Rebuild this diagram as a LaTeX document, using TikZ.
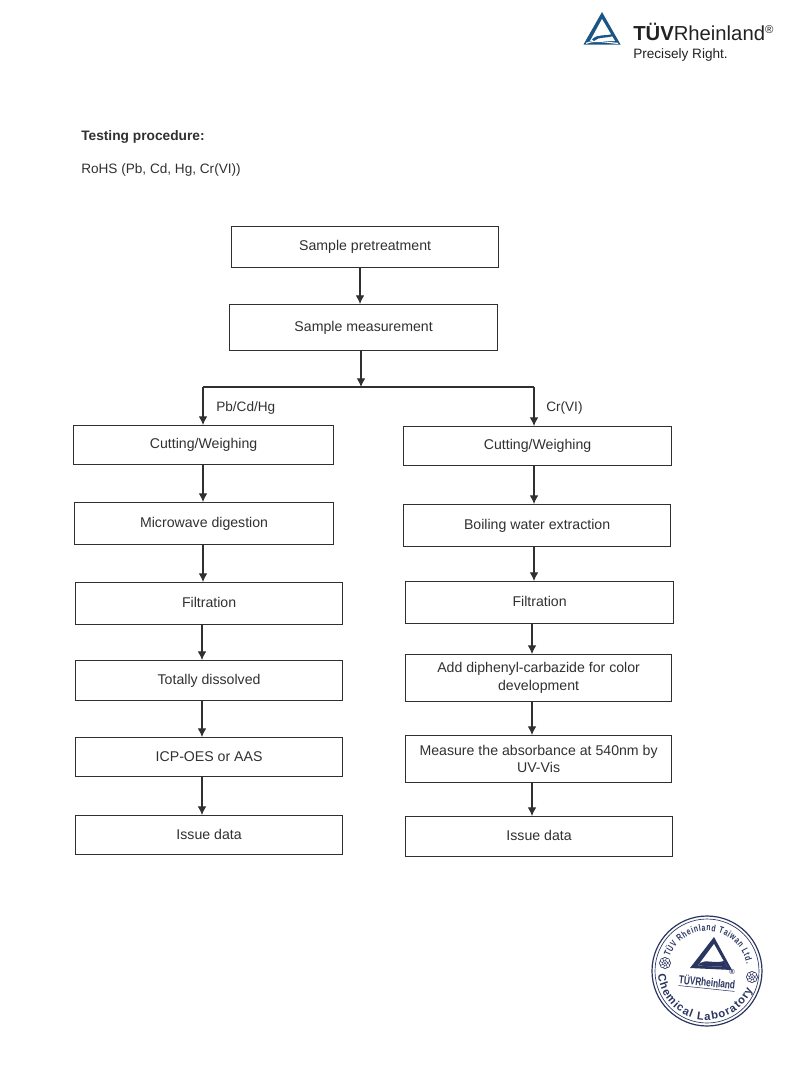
\documentclass[tikz,border=0pt]{standalone}
\usepackage{fontspec}
\setmainfont{Liberation Sans}
\newfontfamily\sealfont[FakeStretch=0.72]{Liberation Sans Bold}
\usetikzlibrary{arrows.meta,decorations.text}
\definecolor{ink}{HTML}{303030}
\definecolor{logoblue}{HTML}{1B5585}
\definecolor{logotext}{HTML}{222222}
\definecolor{seal}{HTML}{2A3560}
\tikzset{
  px/.style={x=0.75pt,y=-0.75pt},
  flowbox/.style={draw=ink,line width=0.9pt,anchor=north west,inner sep=1pt,align=center,text=ink,font=\fontsize{10.6}{13.2}\selectfont},
  arr/.style={draw=ink,line width=0.8pt,-{Latex[length=6.5pt,width=6.5pt]}},
  conn/.style={draw=ink,line width=0.8pt},
  plain/.style={text=ink,inner sep=0pt,anchor=west},
  petal/.style={draw=seal,line width=0.4pt,fill=white},
}
\newcommand{\fb}[6]{\node[flowbox,minimum width=#4*0.75pt,minimum height=#5*0.75pt] (#1) at (#2,#3) {#6};}
\newcommand{\up}[1]{\raisebox{1.2pt}{#1}}
\newcommand{\sealflower}[2]{%
  \foreach \a in {0,45,...,315}{\draw[petal] (#1,#2) ++(\a:3.6) circle (2.1);}
  \draw[petal] (#1,#2) circle (2.4);
  \fill[seal] (#1,#2) circle (1);}
\begin{document}
\begin{tikzpicture}[px]
\useasboundingbox (0,0) rectangle (795,1067);
% header
\node[plain,font=\bfseries\fontsize{10.3}{12}\selectfont] (title) at (81,137) {Testing procedure:};
\node[plain,font=\fontsize{10.2}{12}\selectfont] (sub) at (81,170) {RoHS (Pb, Cd, Hg, Cr(VI))};
% top boxes
\fb{pre}{231}{226}{267}{41}{Sample pretreatment}
\fb{meas}{229}{304}{268}{46}{Sample measurement}
% left column
\fb{la}{73}{425}{260}{39}{Cutting/Weighing}
\fb{lb}{74}{502}{259}{42}{\up{Microwave digestion}}
\fb{lc}{75}{582}{267}{42}{\up{Filtration}}
\fb{ld}{75}{660}{267}{40}{Totally dissolved}
\fb{le}{75}{737}{267}{39}{ICP-OES or AAS}
\fb{lf}{75}{815}{267}{39}{\up{Issue data}}
% right column
\fb{ra}{403}{426}{268}{39}{Cutting/Weighing}
\fb{rb}{403}{504}{267}{42}{Boiling water extraction}
\fb{rc}{405}{581}{268}{42}{\up{Filtration}}
\fb{rd}{405}{654}{266}{47}{Add diphenyl-carbazide for color\\development}
\fb{re}{405}{735}{266}{47}{Measure the absorbance at 540nm by\\UV-Vis}
\fb{rf}{405}{816}{267}{40}{\up{Issue data}}
% connector guides
\coordinate (g0) at (360,0);
\coordinate (g1) at (361,387);
\coordinate (gl) at (203,387);
\coordinate (gr) at (534,387);
\coordinate (gl2) at (202,0);
\coordinate (gr2) at (532,0);
% connectors
\draw[arr] (pre.south -| g0) -- (meas.north -| g0);
\draw[arr] (meas.south -| g1) -- (g1);
\draw[conn] (gl) -- (gr);
\draw[arr] (gl) -- (la.north -| gl);
\draw[arr] (gr) -- (ra.north -| gr);
\draw[arr] (la.south -| gl) -- (lb.north -| gl);
\draw[arr] (lb.south -| gl) -- (lc.north -| gl);
\draw[arr] (lc.south -| gl2) -- (ld.north -| gl2);
\draw[arr] (ld.south -| gl2) -- (le.north -| gl2);
\draw[arr] (le.south -| gl2) -- (lf.north -| gl2);
\draw[arr] (ra.south -| gr) -- (rb.north -| gr);
\draw[arr] (rb.south -| gr) -- (rc.north -| gr);
\draw[arr] (rc.south -| gr2) -- (rd.north -| gr2);
\draw[arr] (rd.south -| gr2) -- (re.north -| gr2);
\draw[arr] (re.south -| gr2) -- (rf.north -| gr2);
% branch labels
\node[plain,font=\fontsize{10.2}{12}\selectfont] (lbl1) at (216,408) {Pb/Cd/Hg};
\node[plain,font=\fontsize{10.2}{12}\selectfont] (lbl2) at (546,408) {Cr(VI)};
% logo
\fill[logoblue] (602,12) -- (620.5,44.5) -- (583.5,44.5) -- cycle;
\fill[white] (602,19) -- (615,41) -- (590,41) -- cycle;
\fill[logoblue] (592,39.5) .. controls (598,33) and (606,37) .. (613,33.5) -- (614,35.5) .. controls (607,39) and (599,36) .. (594,41) -- cycle;
\fill[white] (586,44) .. controls (595,40) and (606,43) .. (618,44) -- (618,42.8) .. controls (606,42) and (595,39) .. (586,42.8) -- cycle;
\node[plain,text=logotext,font=\fontsize{15.2}{17}\selectfont] (brand) at (633,32) {\textbf{TÜV}Rheinland\raisebox{5pt}{\fontsize{8.5}{9}\selectfont ®}};
\node[plain,text=logotext,font=\fontsize{10.2}{12}\selectfont] (slogan) at (633,54.5) {Precisely Right.};
% stamp
\coordinate (sc) at (707,971);
\draw[seal,line width=0.9pt] (sc) circle (55);
\draw[seal,line width=0.5pt] (sc) circle (52);
\fill[seal] (714,937) -- (732,970) -- (690,968) -- cycle;
\fill[white] (714,944) -- (727,967) -- (698,965.5) -- cycle;
\fill[seal] (700,963) .. controls (706,959) and (714,964) .. (724,961) -- (727,967) -- (698,965.5) -- cycle;
\node[text=seal,inner sep=0pt,rotate=-6,font=\sealfont\fontsize{8.6}{9}\selectfont] (sealname) at (707,983) {\underline{TÜVRheinland}};
\node[text=seal,inner sep=0pt,font=\bfseries\fontsize{5.5}{6}\selectfont] (sealreg) at (732,972) {®};
\sealflower{665}{963}
\sealflower{752}{977}
\path[postaction={decorate,decoration={text along path,text align={fit to path},
  text={|\color{seal}\sealfont\fontsize{7.1}{8}\selectfont|TÜV Rheinland Taiwan Ltd.}}}]
  (sc) ++(-159:40) arc[start angle=-159,end angle=-10,radius=40];
\path[postaction={decorate,decoration={text along path,text align={fit to path},
  text={|\color{seal}\bfseries\fontsize{8.4}{9}\selectfont|Chemical Laboratory}}}]
  (sc) ++(176:49) arc[start angle=176,end angle=22,radius=49];
\end{tikzpicture}
\end{document}
